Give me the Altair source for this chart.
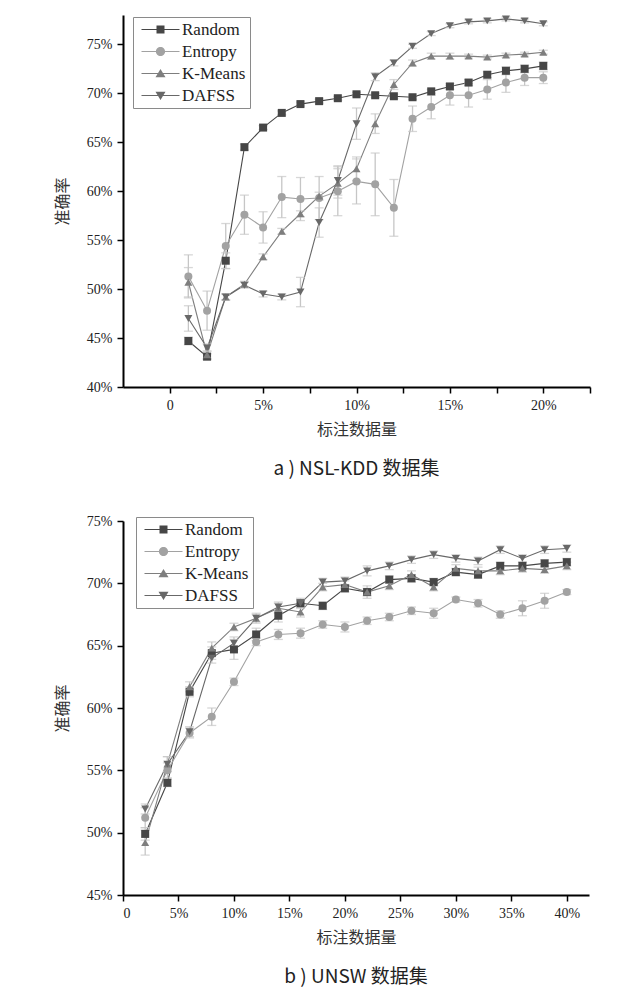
import altair as alt
import pandas as pd

methods = ["Random", "Entropy", "K-Means", "DAFSS"]

# a) NSL-KDD: labelled share 1% .. 20%
x_a = list(range(1, 21))
random_a = [44.7, 43.1, 52.9, 64.5, 66.5, 68.0, 68.9, 69.2, 69.5, 69.9,
            69.8, 69.7, 69.6, 70.2, 70.7, 71.1, 71.9, 72.3, 72.5, 72.8]
entropy_a = [51.3, 47.8, 54.4, 57.6, 56.3, 59.4, 59.2, 59.3, 60.0, 61.0,
             60.7, 58.3, 67.4, 68.6, 69.8, 69.8, 70.4, 71.1, 71.6, 71.6]
kmeans_a = [50.7, 43.3, 49.2, 50.5, 53.3, 55.9, 57.7, 59.5, 60.8, 62.3,
            66.9, 70.9, 73.1, 73.8, 73.8, 73.8, 73.7, 73.9, 74.0, 74.2]
dafss_a = [47.0, 44.0, 49.2, 50.4, 49.5, 49.2, 49.7, 56.8, 61.1, 66.9,
           71.7, 73.1, 74.8, 76.1, 76.9, 77.3, 77.4, 77.6, 77.4, 77.1]
random_err_a = [0.4, 0.3, 0.8, 0.3, 0.2, 0.2, 0.2, 0.2, 0.2, 0.2,
                0.2, 0.2, 0.2, 0.2, 0.3, 0.3, 0.3, 0.4, 0.4, 0.4]
entropy_err_a = [2.2, 2.0, 2.3, 2.0, 1.6, 2.1, 2.2, 2.2, 2.5, 2.3,
                 3.2, 2.9, 1.3, 1.2, 1.0, 1.2, 1.0, 1.0, 0.8, 0.6]
kmeans_err_a = [1.5, 0.4, 0.3, 0.3, 0.3, 0.3, 0.3, 0.4, 1.5, 1.2,
                1.0, 0.5, 0.3, 0.3, 0.3, 0.2, 0.2, 0.2, 0.2, 0.2]
dafss_err_a = [1.3, 0.4, 0.3, 0.3, 0.3, 0.3, 1.5, 1.5, 1.5, 1.6,
               0.4, 0.3, 0.2, 0.2, 0.2, 0.2, 0.2, 0.2, 0.2, 0.2]

# b) UNSW: labelled share 2% .. 40%
x_b = list(range(2, 41, 2))
random_b = [49.9, 54.0, 61.3, 64.4, 64.7, 65.9, 67.4, 68.4, 68.2, 69.6,
            69.3, 70.3, 70.4, 70.1, 70.9, 70.7, 71.4, 71.4, 71.6, 71.7]
entropy_b = [51.2, 55.0, 58.0, 59.3, 62.1, 65.3, 65.9, 66.0, 66.7, 66.5,
             67.0, 67.3, 67.8, 67.6, 68.7, 68.4, 67.5, 68.0, 68.6, 69.3]
kmeans_b = [49.2, 55.5, 61.7, 64.8, 66.5, 67.2, 68.0, 67.7, 69.7, 69.9,
            69.3, 69.8, 70.7, 69.7, 71.2, 71.0, 71.0, 71.2, 71.1, 71.4]
dafss_b = [51.9, 55.5, 58.1, 64.0, 65.2, 67.2, 68.1, 68.4, 70.1, 70.2,
           71.0, 71.4, 71.9, 72.3, 72.0, 71.8, 72.7, 72.0, 72.7, 72.8]
random_err_b = [0.5, 0.3, 0.4, 0.5, 0.8, 0.5, 0.5, 0.3, 0.3, 0.3,
                0.5, 0.3, 0.3, 0.3, 0.3, 0.3, 0.3, 0.3, 0.3, 0.3]
entropy_err_b = [0.8, 0.6, 0.4, 0.7, 0.3, 0.3, 0.4, 0.4, 0.3, 0.4,
                 0.3, 0.3, 0.3, 0.4, 0.2, 0.3, 0.3, 0.6, 0.6, 0.2]
kmeans_err_b = [1.0, 0.6, 0.4, 0.5, 0.3, 0.3, 0.4, 0.4, 0.3, 0.3,
                0.3, 0.3, 0.3, 0.3, 0.3, 0.3, 0.3, 0.3, 0.3, 0.3]
dafss_err_b = [0.4, 0.6, 0.4, 0.4, 0.5, 0.4, 0.4, 0.4, 0.3, 0.3,
               0.4, 0.3, 0.3, 0.3, 0.3, 0.3, 0.3, 0.3, 0.3, 0.3]

colors = ["#464646", "#a2a2a2", "#7e7e7e", "#686868"]
shapes = ["square", "circle", "triangle-up", "triangle-down"]
# legend keys: a short line with the marker sitting on it
bar = "M-1,-0.13H8.5V0.13H-1Z "
key_paths = [
    bar + "M2.75,-1H4.75V1H2.75Z",
    bar + "M4.9,0A1.15,1.15 0 1,1 2.6,0A1.15,1.15 0 1,1 4.9,0Z",
    bar + "M3.75,-1.1L5,0.95H2.5Z",
    bar + "M3.75,1.1L2.5,-0.95H5Z",
]


def make_df(xs, series, errs):
    rows = []
    for m, ys, es in zip(methods, series, errs):
        for xv, yv, ev in zip(xs, ys, es):
            rows.append({"x": xv, "y": yv, "lo": yv - ev, "hi": yv + ev,
                         "method": m, "shape": shapes[methods.index(m)]})
    return pd.DataFrame(rows)


df_a = make_df(x_a, [random_a, entropy_a, kmeans_a, dafss_a],
               [random_err_a, entropy_err_a, kmeans_err_a, dafss_err_a])
df_b = make_df(x_b, [random_b, entropy_b, kmeans_b, dafss_b],
               [random_err_b, entropy_err_b, kmeans_err_b, dafss_err_b])

pct = "datum.value % 5 == 0 ? (datum.value == 0 ? '0' : datum.value + '%') : ''"


def panel(df, xdom, xvals, ydom, yvals, caption, lx, ly, w, h):
    xs = alt.Scale(domain=xdom, nice=False, zero=False)
    ys = alt.Scale(domain=ydom, nice=False, zero=False)
    x = alt.X("x:Q", scale=xs, axis=alt.Axis(values=xvals, labelExpr=pct, title="标注数据量"))
    y = alt.Y("y:Q", scale=ys, axis=alt.Axis(values=yvals, labelExpr=pct, title="准确率"))
    cscale = alt.Scale(domain=methods, range=colors)
    leg = alt.Legend(title=None, orient="none", legendX=lx, legendY=ly,
                     labelFont="Liberation Serif", labelFontSize=17, labelColor="#222",
                     labelOffset=28, symbolOpacity=1, symbolSize=64, symbolStrokeWidth=0,
                     strokeColor="#8a8a8a", fillColor="white", padding=4, rowPadding=4)

    base = alt.Chart(df)
    # invisible layer first: it only carries the legend
    key = base.mark_point(filled=True, size=64, opacity=0).encode(
        x=x, y=y, color=alt.Color("method:N", scale=cscale, legend=leg),
        shape=alt.Shape("method:N", scale=alt.Scale(domain=methods, range=key_paths), legend=leg))
    lines = base.mark_line(strokeWidth=1.1).encode(
        x=x, y=y, color=alt.Color("method:N", scale=cscale, legend=None))
    stems = base.mark_rule(color="#c6c6c6", strokeWidth=1.3).encode(
        x=alt.X("x:Q", scale=xs), y=alt.Y("lo:Q", scale=ys), y2="hi:Q")
    caps = base.transform_fold(["lo", "hi"], as_=["end", "v"]).mark_tick(
        orient="horizontal", size=9, thickness=1.3, color="#c6c6c6").encode(
        x=alt.X("x:Q", scale=xs), y=alt.Y("v:Q", scale=ys))
    pts = base.mark_point(filled=True, size=64, opacity=1).encode(
        x=x, y=y, color=alt.Color("method:N", scale=cscale, legend=None),
        shape=alt.Shape("shape:N", scale=None, legend=None))

    return alt.layer(key, lines, stems, caps, pts).properties(
        width=w, height=h,
        title=alt.TitleParams(text=caption, orient="bottom", anchor="middle",
                              font="Noto Sans CJK SC", fontSize=19, fontWeight="normal",
                              color="#222", offset=23))


top = panel(df_a, [-2.5, 22.5], [x * 2.5 for x in range(0, 10)],
            [40, 78], [40 + v * 2.5 for v in range(0, 16)],
            "a ) NSL-KDD 数据集", 10, 2, 467, 372)
bottom = panel(df_b, [0, 42], [x * 2.5 for x in range(0, 17)],
               [45, 75], [45 + v * 2.5 for v in range(0, 13)],
               "b ) UNSW 数据集", 13, -4, 466, 374)

chart = alt.vconcat(top, bottom, spacing=35).resolve_scale(
    color="independent", shape="independent"
).properties(
    padding={"left": 46, "top": 7, "right": 5, "bottom": 5}
).configure_view(stroke=None).configure_axis(
    grid=False, domainColor="black", domainWidth=2, tickColor="black",
    tickWidth=1.5, tickSize=6, labelFont="Liberation Serif", labelFontSize=14,
    labelColor="#222", labelPadding=5, titleFont="Noto Sans CJK SC",
    titleFontSize=16, titleFontWeight="normal", titleColor="#333", titlePadding=9
).configure_axisY(titlePadding=16)

chart.save("out.html", embed_options={"renderer": "svg", "actions": False})
